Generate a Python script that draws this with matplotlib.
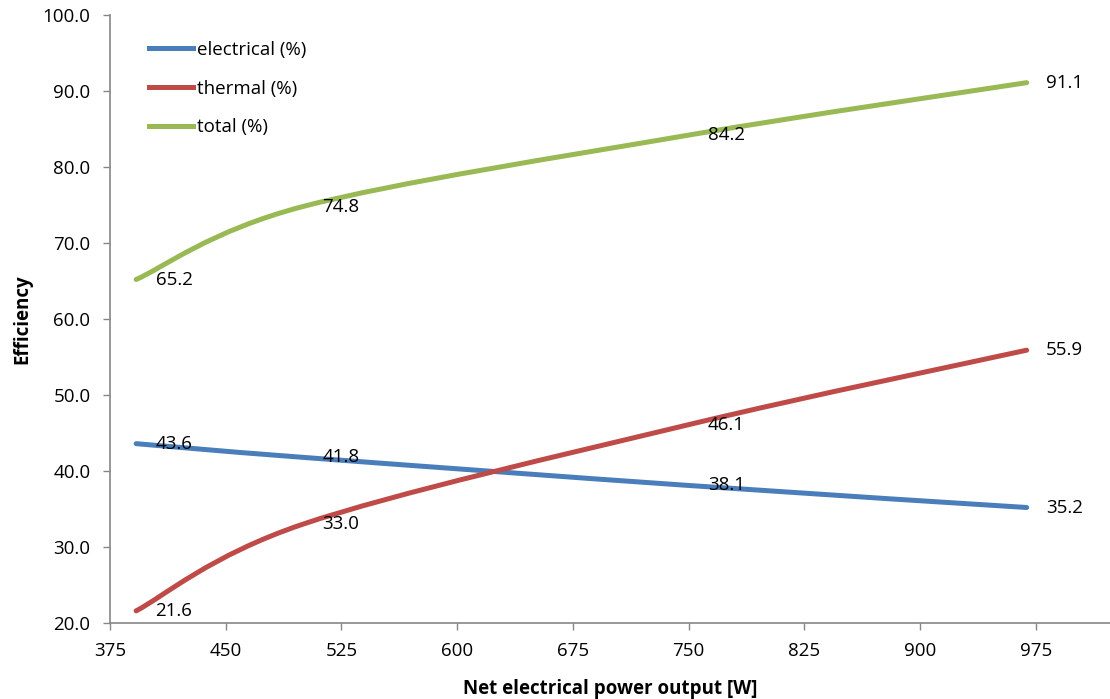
import numpy as np
import matplotlib
matplotlib.use("Agg")
import matplotlib.pyplot as plt
from matplotlib.path import Path
from matplotlib.patches import PathPatch
from matplotlib.lines import Line2D

power = [392, 500, 750, 969]
electrical = [43.6, 41.8, 38.1, 35.2]
thermal = [21.6, 33.0, 46.1, 55.9]
total = [65.2, 74.8, 84.2, 91.1]
series_names = ["electrical (%)", "thermal (%)", "total (%)"]
colors = ["#4A7EBB", "#BE4B48", "#98B954"]
x_ticks = [375, 450, 525, 600, 675, 750, 825, 900, 975]
y_ticks = [20, 30, 40, 50, 60, 70, 80, 90, 100]

plt.rcParams['font.family'] = ['Open Sans', 'DejaVu Sans']
FS = 13.5

fig = plt.figure(figsize=(11.10, 6.99), dpi=100)
ax = fig.add_axes([0.099, 0.1087, 0.901, 0.8698])


def smooth_path(xs, ys):
    pts = np.column_stack([xs, ys]).astype(float)
    n = len(pts)
    verts = [pts[0]]
    codes = [Path.MOVETO]
    for i in range(n - 1):
        p0 = pts[i - 1] if i > 0 else pts[i]
        p1 = pts[i]
        p2 = pts[i + 1]
        p3 = pts[i + 2] if i + 2 < n else pts[i + 1]
        c1 = p1 + (p2 - p0) / 6.0
        c2 = p2 - (p3 - p1) / 6.0
        verts += [c1, c2, p2]
        codes += [Path.CURVE4] * 3
    return Path(verts, codes)


handles = []
for ys, name, c in zip([electrical, thermal, total], series_names, colors):
    patch = PathPatch(smooth_path(power, ys), facecolor='none', edgecolor=c,
                      lw=3.6, capstyle='round', joinstyle='round')
    ax.add_patch(patch)
    for xv, yv in zip(power, ys):
        ax.annotate(f"{yv:.1f}", (xv, yv), xytext=(14, 0), textcoords='offset points',
                    ha='left', va='center', fontsize=FS, color='black')
    handles.append(Line2D([0], [0], color=c, lw=3.6, label=name))

ax.set_xlim(375, 1023)
ax.set_ylim(20, 100)
ax.set_xticks(x_ticks)
ax.set_yticks(y_ticks)
ax.set_yticklabels([f"{v:.1f}" for v in y_ticks])
ax.tick_params(axis='both', direction='out', length=5, width=1, color='#868686',
               labelsize=FS)
ax.tick_params(axis='x', pad=9)
ax.tick_params(axis='y', pad=9)
for s in ['top', 'right']:
    ax.spines[s].set_visible(False)
for s in ['left', 'bottom']:
    ax.spines[s].set_color('#868686')
    ax.spines[s].set_linewidth(1.2)

ax.set_xlabel("Net electrical power output [W]", fontsize=FS, fontweight='bold', labelpad=13)
ax.set_ylabel("Efficiency", fontsize=FS, fontweight='bold', labelpad=7)

leg = ax.legend(handles=handles, loc='upper left', bbox_to_anchor=(0.022, 0.985),
                frameon=False, fontsize=FS, handlelength=2.35, handletextpad=0.2,
                labelspacing=1.1)

fig.savefig("out.png", dpi=100)
